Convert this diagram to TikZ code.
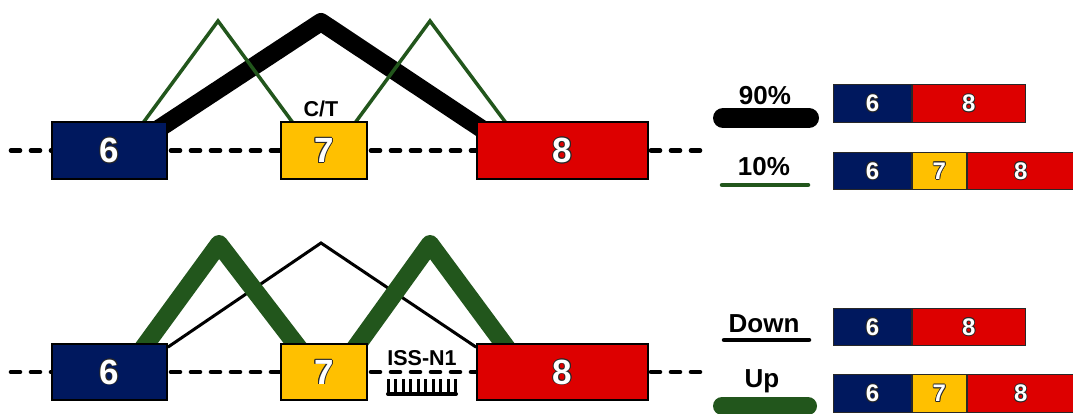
\documentclass[tikz,border=0pt]{standalone}
\usepackage{fontspec}
\setmainfont{Liberation Sans}
\usetikzlibrary{calc,backgrounds}
\definecolor{navy}{RGB}{0,24,94}
\definecolor{exred}{RGB}{221,0,0}
\definecolor{exyel}{RGB}{255,192,0}
\definecolor{leaf}{RGB}{34,86,28}
\definecolor{rim}{RGB}{40,40,40}
% white numerals with a thin dark rim
\newcommand\rimcopy[2]{\makebox[0pt][l]{\kern#1\raisebox{#2}{\copy0}}}
\newcommand\rimmed[1]{\setbox0\hbox{#1}{\color{rim}\rimcopy{-.8pt}{0pt}\rimcopy{.8pt}{0pt}\rimcopy{0pt}{.8pt}\rimcopy{0pt}{-.8pt}\rimcopy{-.6pt}{-.6pt}\rimcopy{.6pt}{.6pt}\rimcopy{-.6pt}{.6pt}\rimcopy{.6pt}{-.6pt}}\copy0}
\tikzset{
  exon/.style={draw=black, line width=1.6, minimum height=57, inner sep=0,
    font=\bfseries\fontsize{35}{35}\selectfont, text=white},
  lbox/.style={draw=rim, line width=0.9, minimum height=37.5, inner sep=0, anchor=west,
    font=\bfseries\fontsize{24}{24}\selectfont, text=white},
  lbl/.style={inner sep=0, anchor=base, font=\bfseries\fontsize{21.5}{21.5}\selectfont},
  legtext/.style={inner sep=0, anchor=base, font=\bfseries\fontsize{26}{26}\selectfont},
  intron/.style={line width=4.6, dash pattern=on 9 off 11, line cap=round},
  heavyblack/.style={line width=18, line join=round},
  thinleaf/.style={leaf, line width=3.5},
  heavyleaf/.style={leaf, line width=18, line join=round},
  thinblack/.style={line width=3},
}
\begin{document}
\begin{tikzpicture}[x=1pt,y=-1pt]
\useasboundingbox (0,0) rectangle (1073,414);

% ---- upper gene model ----
\node[exon, fill=navy,  minimum width=115] (e6t) at (109.5,150.5) {\rimmed{6}};
\node[exon, fill=exyel, minimum width=86]  (e7t) at (324,150.5)   {\rimmed{7}};
\node[exon, fill=exred, minimum width=171] (e8t) at (562.5,150.5) {\rimmed{8}};
\node[lbl] (ct) at (321,117) {C/T};
\coordinate (lt) at (11,150.5);
\coordinate (rt) at (700,150.5);
\coordinate (pkA) at (321,22);
\coordinate (pkB) at (218,21);
\coordinate (pkC) at (430,21);

% ---- lower gene model ----
\node[exon, fill=navy,  minimum width=115, minimum height=56] (e6b) at (109.5,372) {\rimmed{6}};
\node[exon, fill=exyel, minimum width=86,  minimum height=56] (e7b) at (324,372)   {\rimmed{7}};
\node[exon, fill=exred, minimum width=171, minimum height=56] (e8b) at (562.5,372) {\rimmed{8}};
\node[lbl] (iss) at (422,365) {ISS-N1};
\coordinate (lb) at (11,372);
\coordinate (rb) at (700,372);
\coordinate (pkD) at (219,244);
\coordinate (pkE) at (430,244);
\coordinate (pkF) at (321,243);

\begin{scope}[on background layer]
  \fill[white] (0,0) rectangle (1073,414);
  % introns
  \draw[intron] (lt) -- (rt);
  \draw[intron] (lb) -- (rb);
  % upper splicing pattern
  \draw[heavyblack] ($(e6t.north east)+(-25,18)$) -- (pkA) -- ($(e8t.north west)+(21,18)$);
  \draw[thinleaf] ($(e6t.north east)+(-25,2)$) -- (pkB) -- ($(e7t.north west)+(13,2)$);
  \draw[thinleaf] ($(e7t.north east)+(-13,2)$) -- (pkC) -- ($(e8t.north west)+(30,2)$);
  % lower splicing pattern
  \draw[thinblack] ($(e6b.north east)+(0,4)$) -- (pkF) -- ($(e8b.north west)+(0,4)$);
  \draw[heavyleaf] ($(e6b.north east)+(-27,8)$) -- (pkD) -- ($(e7b.north west)+(21,8)$);
  \draw[heavyleaf] ($(e7b.north east)+(-15,8)$) -- (pkE) -- ($(e8b.north west)+(33,8)$);
\end{scope}

% ISS-N1 comb below the intron
\draw[line width=4, line cap=round] (388,394) -- (456,394);
\foreach \i in {0,...,9}
  \draw[line width=3] ({388.5+7.45*\i},395) -- ({388.5+7.45*\i},378.5);

% ---- legend: transcripts ----
\node[legtext] (p90) at (765,105) {90\%};
\coordinate (b90a) at (723,118);
\coordinate (b90b) at (809,118);
\draw[line width=20, line cap=round] (b90a) -- (b90b);
\node[lbox, fill=navy,  minimum width=78]  (L6a) at (833,103.5) {\rimmed{6}};
\node[lbox, fill=exred, minimum width=113] (L8a) at (L6a.east) {\rimmed{8}};

\node[legtext] (p10) at (764,176) {10\%};
\coordinate (b10a) at (722,185);
\coordinate (b10b) at (808,185);
\draw[leaf, line width=4.5, line cap=round] (b10a) -- (b10b);
\node[lbox, fill=navy,  minimum width=78]  (L6b) at (833,171) {\rimmed{6}};
\node[lbox, fill=exyel, minimum width=54]  (L7b) at (L6b.east) {\rimmed{7}};
\node[lbox, fill=exred, minimum width=107] (L8b) at (L7b.east) {\rimmed{8}};

\node[legtext] (dn) at (764,332) {Down};
\coordinate (bdna) at (724,340);
\coordinate (bdnb) at (809,340);
\draw[line width=4.5, line cap=round] (bdna) -- (bdnb);
\node[lbox, fill=navy,  minimum width=78]  (L6c) at (833,327) {\rimmed{6}};
\node[lbox, fill=exred, minimum width=113] (L8c) at (L6c.east) {\rimmed{8}};

\node[legtext] (up) at (762,387) {Up};
\coordinate (bupa) at (722,406);
\coordinate (bupb) at (808,406);
\draw[leaf, line width=18, line cap=round] (bupa) -- (bupb);
\node[lbox, fill=navy,  minimum width=78]  (L6d) at (833,393.5) {\rimmed{6}};
\node[lbox, fill=exyel, minimum width=54]  (L7d) at (L6d.east) {\rimmed{7}};
\node[lbox, fill=exred, minimum width=107] (L8d) at (L7d.east) {\rimmed{8}};
\end{tikzpicture}
\end{document}
